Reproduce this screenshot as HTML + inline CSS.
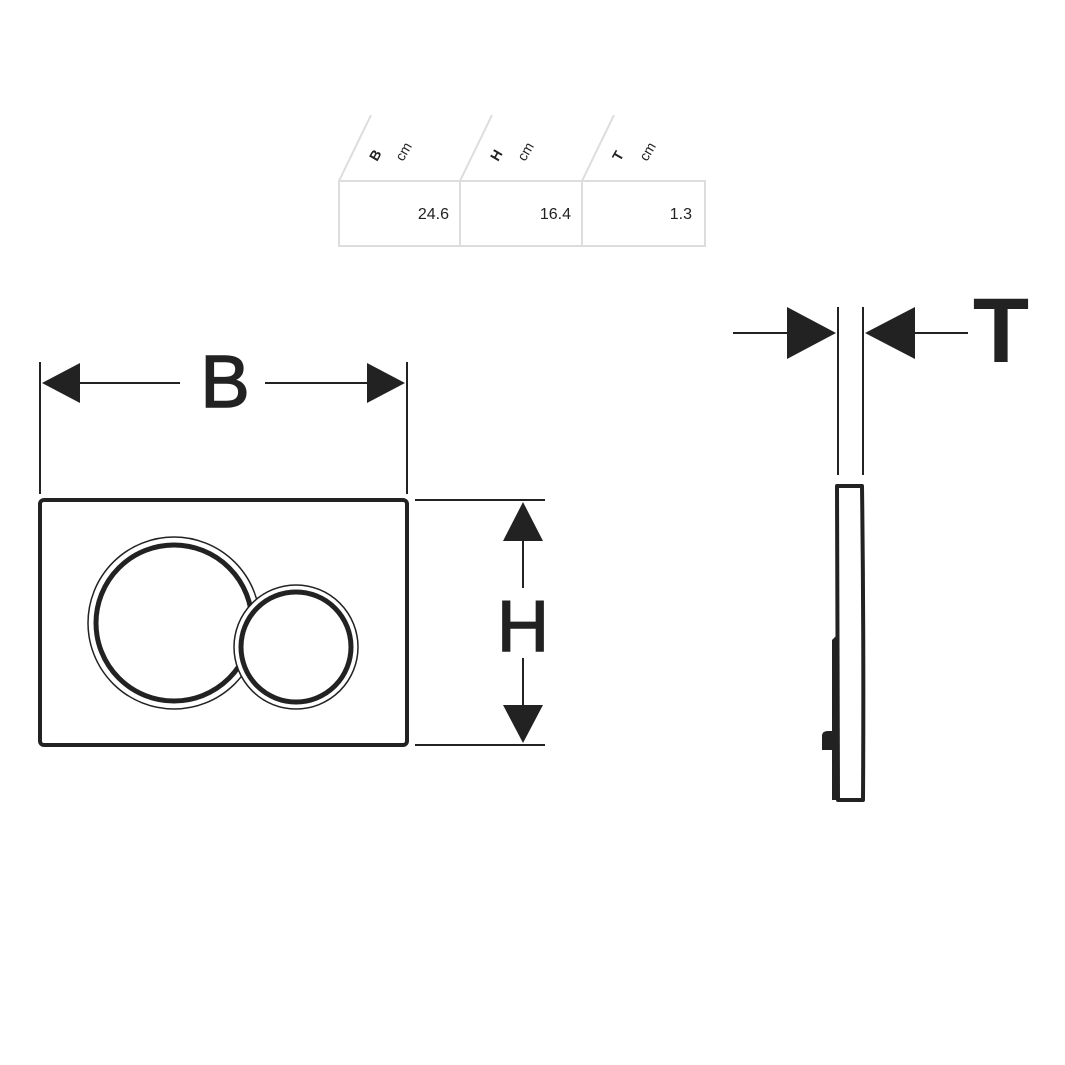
<!DOCTYPE html>
<html><head><meta charset="utf-8"><style>html,body{margin:0;padding:0;background:#fff;}svg{display:block}</style></head>
<body>
<svg width="1065" height="1065" viewBox="0 0 1065 1065" xmlns="http://www.w3.org/2000/svg">
<rect width="1065" height="1065" fill="#fff"/>
<g stroke="#ddd" stroke-width="2" fill="none">
<rect x="339" y="181" width="366" height="65"/>
<line x1="460" y1="181" x2="460" y2="246"/>
<line x1="582" y1="181" x2="582" y2="246"/>
<line x1="339" y1="181" x2="371" y2="115"/>
<line x1="460" y1="181" x2="492" y2="115"/>
<line x1="582" y1="181" x2="614" y2="115"/>
</g>
<g font-family="Liberation Sans, sans-serif" font-size="14" fill="#222">
<text transform="translate(377,162) rotate(-60)" font-weight="bold">B</text>
<text transform="translate(403,162) rotate(-60)">cm</text>
<text transform="translate(498,162) rotate(-60)" font-weight="bold">H</text>
<text transform="translate(525,162) rotate(-60)">cm</text>
<text transform="translate(620,162) rotate(-60)" font-weight="bold">T</text>
<text transform="translate(647,162) rotate(-60)">cm</text>
</g>
<g font-family="Liberation Sans, sans-serif" font-size="16" fill="#222" text-anchor="end">
<text x="449" y="219">24.6</text>
<text x="571" y="219">16.4</text>
<text x="692" y="219">1.3</text>
</g>
<g stroke="#222" stroke-width="2">
<line x1="40" y1="362" x2="40" y2="494"/>
<line x1="407" y1="362" x2="407" y2="494"/>
<line x1="80" y1="383" x2="180" y2="383"/>
<line x1="265" y1="383" x2="367" y2="383"/>
<line x1="415" y1="500" x2="545" y2="500"/>
<line x1="415" y1="745" x2="545" y2="745"/>
<line x1="523" y1="541" x2="523" y2="588"/>
<line x1="523" y1="658" x2="523" y2="705"/>
<line x1="838" y1="307" x2="838" y2="475"/>
<line x1="863" y1="307" x2="863" y2="475"/>
<line x1="733" y1="333" x2="787" y2="333"/>
<line x1="915" y1="333" x2="968" y2="333"/>
</g>
<g fill="#222">
<polygon points="42,383 80,363 80,403"/>
<polygon points="405,383 367,363 367,403"/>
<polygon points="523,502 503,541 543,541"/>
<polygon points="523,743 503,705 543,705"/>
<polygon points="836,333 787,307 787,359"/>
<polygon points="865,333 915,307 915,359"/>
</g>
<g font-family="Liberation Sans, sans-serif" fill="#222" text-anchor="middle">
<text x="225" y="407" font-size="74" stroke="#222" stroke-width="1.5">B</text>
<text x="523" y="651" font-size="72" stroke="#222" stroke-width="1.5">H</text>
<text x="1001" y="362" font-size="92" font-weight="bold">T</text>
</g>
<rect x="40" y="500" width="367" height="245" rx="4" fill="none" stroke="#222" stroke-width="4"/>
<circle cx="174" cy="623" r="86" fill="none" stroke="#222" stroke-width="1.5"/>
<circle cx="174" cy="623" r="78" fill="none" stroke="#222" stroke-width="5"/>
<circle cx="296" cy="647" r="62" fill="#fff" stroke="#222" stroke-width="1.5"/>
<circle cx="296" cy="647" r="55" fill="none" stroke="#222" stroke-width="5"/>
<path d="M837,486 L862,486 Q864,640 863,800 L838,800 Z" fill="none" stroke="#222" stroke-width="4" stroke-linejoin="round"/>
<path d="M832,640 L836,636 L836,800 L832,800 Z" fill="#222"/>
<path d="M822,750 L822,736 Q822,731 828,731 L834,731 L834,750 Z" fill="#222"/>
</svg>
</body></html>
